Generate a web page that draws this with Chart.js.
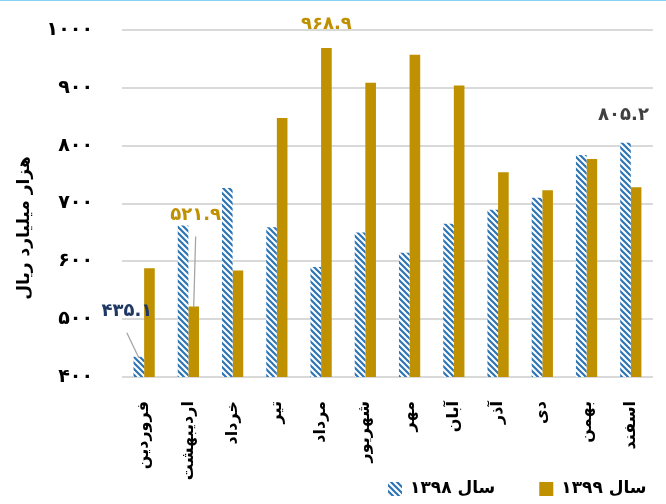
<!DOCTYPE html>
<html>
<head>
<meta charset="utf-8">
<script src="https://cdn.jsdelivr.net/npm/chart.js@4.4.1/dist/chart.umd.min.js"></script>
<style>
  html, body { margin: 0; padding: 0; background: #fff; }
  #wrap { position: relative; width: 666px; height: 504px; border-top: 1px solid #86d4f5; box-sizing: border-box; }
</style>
</head>
<body>
<div id="wrap"><canvas id="c"></canvas></div>
<script>
/* ── Datos ───────────────────────────── */
const months = ["فروردین", "اردیبهشت", "خرداد", "تیر", "مرداد", "شهریور", "مهر", "آبان", "آذر", "دی", "بهمن", "اسفند"];
const values1398 = [435.1, 662, 727, 659, 590, 650, 615, 665, 689, 710, 784, 805.2];
const values1399 = [588, 521.9, 584, 848, 968.9, 909, 957, 904, 754, 723, 777, 728];
const seriesNames = ["سال ۱۳۹۸", "سال ۱۳۹۹"];
const yMin = 400, yMax = 1000, yStep = 100;
const yTitle = "هزار میلیارد ریال";

/* ── Estilo ───────────────────────────── */
const FONT = '"DejaVu Sans", "Noto Sans", sans-serif';
const BLUE = "#2E75B6";
const GOLD = "#BF9000";

// etiquetas sueltas sobre algunas barras (dataset, índice, desplazamiento)
const callouts = [
  { ds: 0, i: 0, color: "#1F3864", dx: -12, dy: -45, leader: true },
  { ds: 1, i: 1, color: GOLD, dx: 2, dy: -91, leader: true },
  { ds: 1, i: 4, color: GOLD, dx: 0, dy: -24, leader: false },
  { ds: 0, i: 11, color: "#404040", dx: -2, dy: -27, leader: false },
];

const fa = (v) => String(v).replace(/\d/g, (d) => "۰۱۲۳۴۵۶۷۸۹"[d]);

function hatch(color) {
  const s = 6;
  const c = document.createElement("canvas");
  c.width = c.height = s;
  const g = c.getContext("2d");
  g.fillStyle = "#fff";
  g.fillRect(0, 0, s, s);
  g.strokeStyle = color;
  g.lineWidth = 2.2;
  g.beginPath();
  g.moveTo(-1, -1); g.lineTo(s + 1, s + 1);
  g.moveTo(-1, s - 1); g.lineTo(1, s + 1);
  g.moveTo(s - 1, -1); g.lineTo(s + 1, 1);
  g.stroke();
  return g.createPattern(c, "repeat");
}

/* ── Plugin: etiquetas + líneas guía ── */
const calloutPlugin = {
  id: "callouts",
  afterDatasetsDraw(chart) {
    const ctx = chart.ctx;
    ctx.save();
    ctx.font = "bold 18px " + FONT;
    ctx.textAlign = "center";
    ctx.textBaseline = "middle";
    callouts.forEach((c) => {
      const bar = chart.getDatasetMeta(c.ds).data[c.i];
      const v = chart.data.datasets[c.ds].data[c.i];
      const lx = bar.x + c.dx, ly = bar.y + c.dy;
      if (c.leader) {
        ctx.strokeStyle = "#a6a6a6";
        ctx.lineWidth = 1.3;
        ctx.beginPath();
        ctx.moveTo(lx, ly + 21);
        ctx.lineTo(bar.x, bar.y + 1);
        ctx.stroke();
      }
      ctx.fillStyle = c.color;
      ctx.fillText(fa(v), lx, ly);
    });
    ctx.restore();
  },
};

/* ── Plugin: título del eje Y + leyenda inferior ── */
const frameTextPlugin = {
  id: "frameText",
  afterDraw(chart) {
    const ctx = chart.ctx;
    ctx.save();
    // título eje Y
    ctx.translate(25, 227);
    ctx.rotate(-Math.PI / 2);
    ctx.font = "bold 17px " + FONT;
    ctx.fillStyle = "#000";
    ctx.textAlign = "center";
    ctx.textBaseline = "middle";
    ctx.fillText(yTitle, 0, 0);
    ctx.restore();

    // leyenda
    ctx.save();
    ctx.font = "bold 17px " + FONT;
    ctx.textAlign = "left";
    ctx.textBaseline = "middle";
    let x = 388;
    const yc = 488, box = 14;
    chart.data.datasets.forEach((ds) => {
      ctx.fillStyle = ds.backgroundColor;
      ctx.fillRect(x, yc - box / 2, box, box);
      ctx.fillStyle = "#000";
      ctx.fillText(ds.label, x + box + 8, yc);
      x += box + 8 + ctx.measureText(ds.label).width + 44;
    });
    ctx.restore();
  },
};

new Chart(document.getElementById("c"), {
  type: "bar",
  data: {
    labels: months,
    datasets: [
      { label: seriesNames[0], data: values1398, backgroundColor: hatch(BLUE), borderWidth: 0 },
      { label: seriesNames[1], data: values1399, backgroundColor: GOLD, borderWidth: 0 },
    ],
  },
  plugins: [calloutPlugin, frameTextPlugin],
  options: {
    responsive: true,
    maintainAspectRatio: false,
    animation: false,
    layout: { padding: { top: 29, right: -3, left: 0, bottom: 0 } },
    datasets: { bar: { barPercentage: 1, categoryPercentage: 0.48 } },
    plugins: {
      tooltip: { enabled: false },
      legend: { display: false },
    },
    scales: {
      x: {
        grid: { display: false },
        border: { display: false },
        ticks: {
          color: "#000",
          font: { family: FONT, size: 16, weight: "bold" },
          minRotation: 90,
          maxRotation: 90,
          autoSkip: false,
          padding: 16,
        },
        afterFit(s) { s.height = 127; },
      },
      y: {
        min: yMin,
        max: yMax,
        grid: { color: "#d9d9d9", lineWidth: 2, drawTicks: false },
        border: { display: false },
        ticks: {
          stepSize: yStep,
          padding: 29,
          color: "#000",
          font: { family: FONT, size: 19, weight: "bold" },
          callback: (v) => fa(v),
        },
        afterFit(s) {
          s.width = 122;
          // el padding de los ticks no debe empujar el área hacia abajo
          s.paddingTop = 0;
          s.paddingBottom = 0;
        },
      },
    },
  },
});
</script>
</body>
</html>
